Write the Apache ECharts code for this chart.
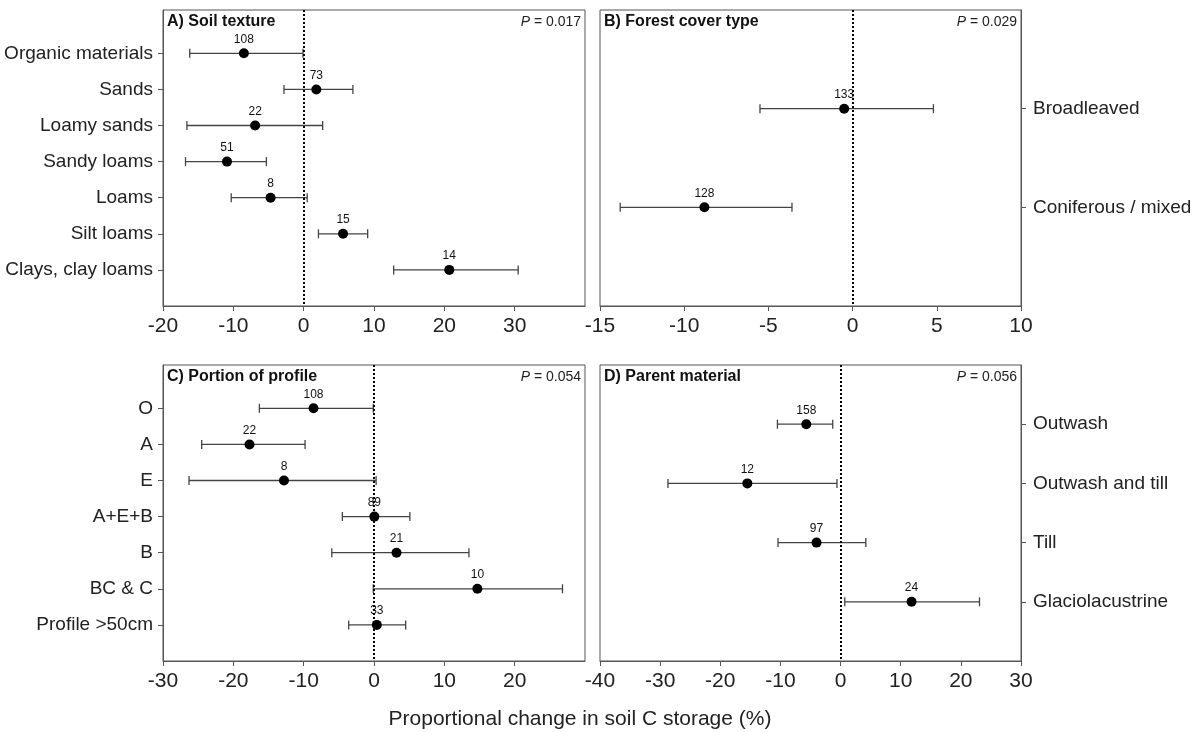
<!DOCTYPE html>
<html>
<head>
<meta charset="utf-8">
<script src="https://cdn.jsdelivr.net/npm/echarts@6/dist/echarts.min.js"></script>
<style>
  html, body { margin: 0; padding: 0; background: #fff; }
  #chart { width: 1199px; height: 732px; }
</style>
</head>
<body>
<div id="chart"></div>
<script>
// A) soil texture
const textureCats = ["Organic materials", "Sands", "Loamy sands", "Sandy loams", "Loams", "Silt loams", "Clays, clay loams"];
const textureMean = [-8.5, 1.8, -6.9, -10.9, -4.7, 5.6, 20.7];
const textureLow = [-16.2, -2.8, -16.6, -16.8, -10.3, 2.1, 12.8];
const textureHigh = [-0.1, 7.0, 2.7, -5.3, 0.5, 9.1, 30.5];
const textureN = [108, 73, 22, 51, 8, 15, 14];

// B) forest cover type
const forestCats = ["Broadleaved", "Coniferous / mixed"];
const forestMean = [-0.5, -8.8];
const forestLow = [-5.5, -13.8];
const forestHigh = [4.8, -3.6];
const forestN = [133, 128];

// C) portion of profile
const profileCats = ["O", "A", "E", "A+E+B", "B", "BC & C", "Profile >50cm"];
const profileMean = [-8.6, -17.7, -12.8, 0.05, 3.2, 14.7, 0.4];
const profileLow = [-16.3, -24.5, -26.3, -4.5, -6.0, -0.1, -3.6];
const profileHigh = [-0.1, -9.8, 0.3, 5.1, 13.5, 26.8, 4.5];
const profileN = [108, 22, 8, 89, 21, 10, 33];

// D) parent material
const parentCats = ["Outwash", "Outwash and till", "Till", "Glaciolacustrine"];
const parentMean = [-5.7, -15.5, -4.0, 11.8];
const parentLow = [-10.5, -28.7, -10.4, 0.7];
const parentHigh = [-1.3, -0.6, 4.2, 23.1];
const parentN = [158, 12, 97, 24];

const panelTitles = ["A) Soil texture", "B) Forest cover type", "C) Portion of profile", "D) Parent material"];
const pValues = ["0.017", "0.029", "0.054", "0.056"];

const font = "Liberation Sans, Arial, sans-serif";
const frameColor = "#555";

const chart = echarts.init(document.getElementById("chart"));

function renderBar(params, api) {
  const y = api.value(2);
  const a = api.coord([api.value(0), y]);
  const b = api.coord([api.value(1), y]);
  const h = 4.5;
  const style = { stroke: "#444", lineWidth: 1.3 };
  return {
    type: "group",
    children: [
      { type: "line", shape: { x1: a[0], y1: a[1], x2: b[0], y2: b[1] }, style },
      { type: "line", shape: { x1: a[0], y1: a[1] - h, x2: a[0], y2: a[1] + h }, style },
      { type: "line", shape: { x1: b[0], y1: b[1] - h, x2: b[0], y2: b[1] + h }, style },
    ],
  };
}

const panels = [
  { cats: textureCats, mean: textureMean, low: textureLow, high: textureHigh, n: textureN,
    grid: { left: 163, top: 10, width: 422, height: 296 }, xmin: -20, xmax: 40, step: 10,
    ticks: [-20, -10, 0, 10, 20, 30], ymin: -1.2, ymax: 7, side: "left" },
  { cats: forestCats, mean: forestMean, low: forestLow, high: forestHigh, n: forestN,
    grid: { left: 600, top: 10, width: 421, height: 296 }, xmin: -15, xmax: 10, step: 5,
    ticks: [-15, -10, -5, 0, 5, 10], ymin: -1, ymax: 2, side: "right" },
  { cats: profileCats, mean: profileMean, low: profileLow, high: profileHigh, n: profileN,
    grid: { left: 163, top: 365, width: 422, height: 296 }, xmin: -30, xmax: 30, step: 10,
    ticks: [-30, -20, -10, 0, 10, 20], ymin: -1.2, ymax: 7, side: "left" },
  { cats: parentCats, mean: parentMean, low: parentLow, high: parentHigh, n: parentN,
    grid: { left: 600, top: 365, width: 421, height: 296 }, xmin: -40, xmax: 30, step: 10,
    ticks: [-40, -30, -20, -10, 0, 10, 20, 30], ymin: -1, ymax: 4, side: "right" },
];

const grids = [];
const xAxes = [];
const yAxes = [];
const series = [];
const titles = [];

panels.forEach((p, i) => {
  grids.push(Object.assign({ show: true, borderColor: frameColor, borderWidth: 1 }, p.grid));
  xAxes.push({
    type: "value", gridIndex: i, min: p.xmin, max: p.xmax, interval: p.step,
    splitLine: { show: false },
    axisLine: { show: true, onZero: false, lineStyle: { color: frameColor } },
    axisTick: { show: true, length: 5, customValues: p.ticks, lineStyle: { color: frameColor } },
    axisLabel: { customValues: p.ticks, fontSize: 21, color: "#222", margin: 10, fontFamily: font },
  });
  const idx = p.cats.map((c, k) => k);
  yAxes.push({
    type: "value", gridIndex: i, inverse: true, min: p.ymin, max: p.ymax, position: p.side,
    splitLine: { show: false },
    axisLine: { show: true, onZero: false, lineStyle: { color: frameColor } },
    axisTick: { show: true, length: 5, customValues: idx, lineStyle: { color: frameColor } },
    axisLabel: {
      customValues: idx, fontSize: 19, color: "#222", margin: p.side === "left" ? 10 : 12, fontFamily: font,
      formatter: (v) => p.cats[Math.round(v)] || "",
    },
  });
  series.push({
    type: "custom", xAxisIndex: i, yAxisIndex: i, renderItem: renderBar,
    encode: { x: [0, 1], y: 2 },
    data: p.cats.map((c, k) => [p.low[k], p.high[k], k]),
    z: 2,
  });
  series.push({
    type: "scatter", xAxisIndex: i, yAxisIndex: i, symbolSize: 10,
    itemStyle: { color: "#000", opacity: 1 },
    label: {
      show: true, position: "top", distance: 3, fontSize: 12, color: "#111", fontFamily: font,
      formatter: (d) => d.value[2],
    },
    data: p.cats.map((c, k) => [p.mean[k], k, p.n[k]]),
    markLine: {
      silent: true, symbol: "none", animation: false,
      label: { show: false },
      lineStyle: { color: "#000", type: [2, 2], width: 2 },
      data: [{ xAxis: 0 }],
    },
    z: 3,
  });
  titles.push({
    text: panelTitles[i], left: p.grid.left + 4, top: p.grid.top + 4, padding: 0,
    textStyle: { fontSize: 16, fontWeight: "bold", color: "#111", fontFamily: font },
  });
  titles.push({
    text: "{i|P} = " + pValues[i], right: 1199 - (p.grid.left + p.grid.width) + 4, top: p.grid.top + 5, padding: 0,
    textStyle: {
      fontSize: 14, fontWeight: "normal", color: "#222", fontFamily: font,
      rich: { i: { fontStyle: "italic", fontSize: 14, color: "#222", fontFamily: font } },
    },
  });
});

titles.push({
  text: "Proportional change in soil C storage (%)", left: 580, top: 709, textAlign: "center", padding: 0,
  textStyle: { fontSize: 21, fontWeight: "normal", color: "#222", fontFamily: font },
});

chart.setOption({
  animation: false,
  title: titles,
  grid: grids,
  xAxis: xAxes,
  yAxis: yAxes,
  series: series,
});
</script>
</body>
</html>
